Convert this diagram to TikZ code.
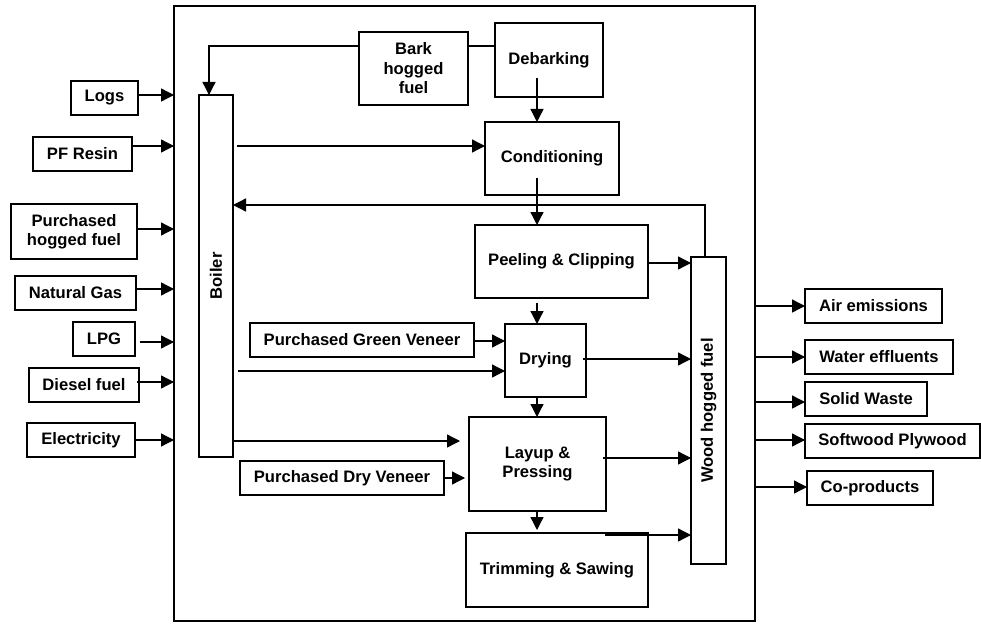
\documentclass[tikz,border=0pt]{standalone}
\usepackage{fontspec}
\setmainfont{Liberation Sans}
\usetikzlibrary{arrows.meta}
\begin{document}
\begin{tikzpicture}[x=1pt,y=-1pt,
  lbl/.style={font=\fontsize{16.6}{19.5}\selectfont\bfseries, align=center},
  blk/.style={draw, line width=1.4pt, inner sep=0pt, outer sep=0pt, lbl},
  wire/.style={line width=1.3pt},
  arr/.style={wire, -{Triangle[length=13pt,width=13pt]}}]
\useasboundingbox (0,0) rectangle (981,623);

% plant boundary
\node[draw, line width=2.8pt, inner sep=0pt, outer sep=0pt,
      minimum width=581, minimum height=615] (plant) at (464.5,313.5) {};

% inputs
\node[blk, minimum width=67,  minimum height=34] (logs)   at (104.5,98)  {Logs};
\node[blk, minimum width=99,  minimum height=34] (pf)     at (82.5,154)  {PF Resin};
\node[blk, minimum width=126, minimum height=55] (phf)    at (74,231.5)  {Purchased\\hogged fuel};
\node[blk, minimum width=121, minimum height=34] (ng)     at (75.5,293)  {Natural Gas};
\node[blk, minimum width=62,  minimum height=34] (lpg)    at (104,339)   {LPG};
\node[blk, minimum width=110, minimum height=34] (diesel) at (84,385)    {Diesel fuel};
\node[blk, minimum width=108, minimum height=34] (elec)   at (81,440)    {Electricity};

% process blocks
\node[blk, minimum width=34,  minimum height=362] (boiler) at (216,276) {};
\node[lbl, rotate=90] at (boiler.center) {Boiler};
\node[blk, minimum width=109, minimum height=73] (bark)   at (413.5,68.5) {Bark\\hogged\\fuel};
\node[blk, minimum width=108, minimum height=74] (debark) at (549,60)     {Debarking};
\node[blk, minimum width=134, minimum height=73] (cond)   at (552,158.5)  {Conditioning};
\node[blk, minimum width=173, minimum height=73] (peel)   at (561.5,261.5){Peeling \& Clipping};
\node[blk, minimum width=224, minimum height=34] (pgv)    at (362,340)    {Purchased Green Veneer};
\node[blk, minimum width=81,  minimum height=73] (dry)    at (545.5,360.5){Drying};
\node[blk, minimum width=137, minimum height=94] (layup)  at (537.5,464)  {Layup \&\\Pressing};
\node[blk, minimum width=204, minimum height=34] (pdv)    at (342,478)    {Purchased Dry Veneer};
\node[blk, minimum width=182, minimum height=74] (trim)   at (557,570)    {Trimming \& Sawing};
\node[blk, minimum width=35,  minimum height=307] (whf)   at (708.5,410.5){};
\node[lbl, rotate=90] at (whf.center) {Wood hogged fuel};

% outputs
\node[blk, minimum width=137, minimum height=34] (air)    at (873.5,306) {Air emissions};
\node[blk, minimum width=148, minimum height=34] (water)  at (879,357)   {Water effluents};
\node[blk, minimum width=122, minimum height=34] (solid)  at (866,399)   {Solid Waste};
\node[blk, minimum width=175, minimum height=34] (soft)   at (892.5,441) {Softwood Plywood};
\node[blk, minimum width=126, minimum height=34] (coprod) at (870,488)   {Co-products};

% free line ends
\coordinate (debarkout) at (537,78);
\coordinate (condout)   at (537,178);
\coordinate (peelout)   at (537,303);
\coordinate (dryout)    at (583,359);
\coordinate (layupout)  at (603,458);
\coordinate (trimout)   at (605,535);
\coordinate (layupin)   at (460,441);
\coordinate (pdvin)     at (465,478);

% inputs into the plant
\draw[arr] (logs.east |- 0,95)    -- (plant.west |- 0,95);
\draw[arr] (pf.east |- 0,146)     -- (plant.west |- 0,146);
\draw[arr] (phf.east |- 0,229)    -- (plant.west |- 0,229);
\draw[arr] (ng.east |- 0,289)     -- (plant.west |- 0,289);
\draw[arr] ([xshift=5pt]lpg.east |- 0,342) -- (plant.west |- 0,342);
\draw[arr] ([xshift=-2pt]diesel.east |- 0,382) -- (plant.west |- 0,382);
\draw[arr] (elec.east |- 0,440)   -- (plant.west |- 0,440);

% bark to boiler, debarking
\draw[arr] (bark.west |- 0,46) -| (boiler.north -| 209,0);
\draw[wire] (bark.east |- 0,46) -- (debark.west |- 0,46);

% main line
\draw[arr] (debarkout) -- (cond.north -| debarkout);
\draw[arr] (condout)   -- (peel.north -| condout);
\draw[arr] (peelout)   -- (dry.north -| peelout);
\draw[arr] (dry.south -| peelout) -- (layup.north -| peelout);
\draw[arr] (layup.south -| peelout) -- ([yshift=3pt]trim.north -| peelout);

% boiler steam
\draw[arr] ([xshift=4pt]boiler.east |- 0,146) -- (cond.west |- 0,146);
\draw[arr] ([xshift=5pt]boiler.east |- 0,371) -- (dry.west |- 0,371);
\draw[arr] (boiler.east |- 0,441) -- (layupin);

% purchased veneer
\draw[arr] (pgv.east |- 0,341) -- (dry.west |- 0,341);
\draw[arr] (pdv.east |- 0,478) -- (pdvin);

% wood residues
\draw[arr] (peel.east |- 0,263) -- (whf.west |- 0,263);
\draw[arr] (dryout)   -- (whf.west |- dryout);
\draw[arr] (layupout) -- (whf.west |- layupout);
\draw[arr] (trimout)  -- (whf.west |- trimout);
\draw[arr] (whf.north -| 705,0) |- (boiler.east |- 0,205);

% outputs from the plant
\draw[arr] (plant.east |- 0,306) -- (air.west |- 0,306);
\draw[arr] (plant.east |- 0,357) -- (water.west |- 0,357);
\draw[arr] (plant.east |- 0,402) -- (solid.west |- 0,402);
\draw[arr] (plant.east |- 0,440) -- (soft.west |- 0,440);
\draw[arr] (plant.east |- 0,487) -- (coprod.west |- 0,487);
\end{tikzpicture}
\end{document}
